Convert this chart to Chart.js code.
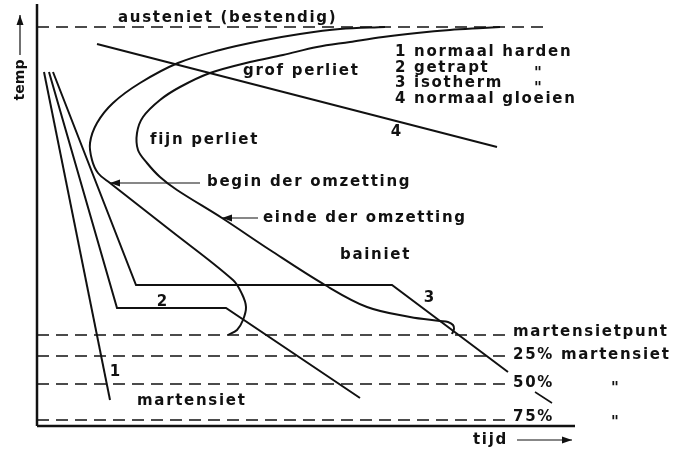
<!DOCTYPE html>
<html><head><meta charset="utf-8">
<script src="https://cdn.jsdelivr.net/npm/chart.js@4/dist/chart.umd.min.js"></script>
<style>html,body{margin:0;padding:0;background:#fff}#wrap{width:690px;height:450px;position:relative}</style>
</head><body><div id="wrap"><canvas id="c"></canvas></div>
<script>
// ---- data (tijd = x, temp = y) ----
const levelTemp = [399, 91, 70, 42, 6];          // austeniet, martensietpunt, 25%, 50%, 75%
const levelEnd  = [513, 468, 470, 470, 470];

const beginTijd = [348,303,263,223,183,141,103,76,60,53,55,61,73,133,196,205,209,206,200,191];
const beginTemp = [399,397,392,385,376,363,343,323,303,283,266,253,243,196,146,132,119,106,96,91];

const eindeTijd = [463,446,413,380,346,313,280,246,213,173,143,123,106,100,101,110,123,140,185,233,288,330,373,403,411,416,417,415];
const eindeTemp = [399,398,396,393,389,384,379,371,364,353,339,326,309,293,276,263,249,236,208,176,141,119,109,105,104,101,97,92];

const line1Tijd = [7, 73];           const line1Temp = [354, 26];
const line2Tijd = [12, 80, 189, 323]; const line2Temp = [354, 118, 118, 28];
const line3Tijd = [16, 99, 355, 471]; const line3Temp = [354, 141, 141, 54];
const line4Tijd = [60, 460];          const line4Temp = [382, 279];
const slashTijd = [498, 515];         const slashTemp = [34, 23];

const axisYTijd = [0, 0];   const axisYTemp = [0, 422];
const axisXTijd = [0, 538]; const axisXTemp = [0, 0];

const arrowTempTijd = [-17, -17]; const arrowTempTemp = [371, 411];
const arrowTijdTijd = [480, 535]; const arrowTijdTemp = [-14, -14];
const ptrBeginTijd = [163, 73];   const ptrBeginTemp = [243, 243];
const ptrEindeTijd = [221, 185];  const ptrEindeTemp = [208, 208];

const labelTexts = ['austeniet (bestendig)','grof perliet','1 normaal harden','2 getrapt','3 isotherm','4 normaal gloeien',
  'fijn perliet','begin der omzetting','einde der omzetting','bainiet','martensietpunt','25% martensiet','50%','75%','martensiet','tijd'];
const labelTijd = [81,206,358,358,358,358,113,170,226,303,476,476,476,476,100,436];
const labelTemp = [408,355,374,358,343,327,286,244,208,171,94,71,43,9,25,-14];

const numTexts = ['1','2','3','4'];
const numTijd = [78,125,392,359];
const numTemp = [54,124,128,294];

const dittoTijd = [501,501,578,578];
const dittoTemp = [358,343,43,9];

const zip = (xs, ys) => xs.map((x, i) => ({x, y: ys[i]}));
const K = '#111';
function ds(xs, ys, o) {
  return Object.assign({data: zip(xs, ys), showLine: true, borderColor: K, borderWidth: 2,
    pointRadius: 0, tension: 0, clip: false, fill: false}, o || {});
}
const datasets = [];
levelTemp.forEach((t, i) => datasets.push(ds([0, levelEnd[i]], [t, t], {borderWidth: 1.5, borderDash: [12, 7]})));
datasets.push(ds(beginTijd, beginTemp, {tension: 0.35}));
datasets.push(ds(eindeTijd, eindeTemp, {tension: 0.35}));
datasets.push(ds(line1Tijd, line1Temp));
datasets.push(ds(line2Tijd, line2Temp));
datasets.push(ds(line3Tijd, line3Temp));
datasets.push(ds(line4Tijd, line4Temp));
datasets.push(ds(slashTijd, slashTemp, {borderWidth: 1.5}));
datasets.push(ds(axisYTijd, axisYTemp, {borderWidth: 2.5}));
datasets.push(ds(axisXTijd, axisXTemp, {borderWidth: 2.5}));
const arrowSets = [[arrowTempTijd, arrowTempTemp], [arrowTijdTijd, arrowTijdTemp], [ptrBeginTijd, ptrBeginTemp], [ptrEindeTijd, ptrEindeTemp]];
arrowSets.forEach(a => datasets.push(ds(a[0], a[1], {borderWidth: 1.2})));

const textPlugin = {
  id: 'texts',
  afterDatasetsDraw(chart) {
    const ctx = chart.ctx, xs = chart.scales.x, ys = chart.scales.y;
    ctx.save();
    ctx.fillStyle = K;
    // arrowheads
    arrowSets.forEach(a => {
      const x1 = xs.getPixelForValue(a[0][0]), y1 = ys.getPixelForValue(a[1][0]);
      const x2 = xs.getPixelForValue(a[0][1]), y2 = ys.getPixelForValue(a[1][1]);
      const ang = Math.atan2(y2 - y1, x2 - x1), L = 10, W = 3.5;
      ctx.beginPath();
      ctx.moveTo(x2, y2);
      ctx.lineTo(x2 - L * Math.cos(ang) - W * Math.sin(ang), y2 - L * Math.sin(ang) + W * Math.cos(ang));
      ctx.lineTo(x2 - L * Math.cos(ang) + W * Math.sin(ang), y2 - L * Math.sin(ang) - W * Math.cos(ang));
      ctx.closePath(); ctx.fill();
    });
    ctx.font = 'bold 15px "DejaVu Sans"';
    ctx.letterSpacing = '1.7px';
    ctx.textBaseline = 'middle';
    ctx.textAlign = 'left';
    labelTexts.forEach((t, i) => ctx.fillText(t, xs.getPixelForValue(labelTijd[i]), ys.getPixelForValue(labelTemp[i])));
    ctx.textAlign = 'center';
    ctx.letterSpacing = '0px';
    numTexts.forEach((t, i) => ctx.fillText(t, xs.getPixelForValue(numTijd[i]), ys.getPixelForValue(numTemp[i])));
    ctx.font = 'bold 15px "DejaVu Sans"';
    dittoTijd.forEach((x, i) => ctx.fillText('"', xs.getPixelForValue(x), ys.getPixelForValue(dittoTemp[i]) + 6));
    // rotated axis title
    ctx.font = 'bold 14px "DejaVu Sans"';
    ctx.translate(xs.getPixelForValue(-17), ys.getPixelForValue(346));
    ctx.rotate(-Math.PI / 2);
    ctx.fillText('temp', 0, 0);
    ctx.restore();
  }
};

new Chart(document.getElementById('c'), {
  type: 'scatter',
  data: {datasets},
  options: {
    responsive: true, maintainAspectRatio: false, animation: false,
    layout: {padding: {left: 37, right: 0, top: 0, bottom: 24}},
    scales: {
      x: {type: 'linear', display: false, min: 0, max: 653},
      y: {type: 'linear', display: false, min: 0, max: 426}
    },
    plugins: {legend: {display: false}, tooltip: {enabled: false}}
  },
  plugins: [textPlugin]
});
</script></body></html>
